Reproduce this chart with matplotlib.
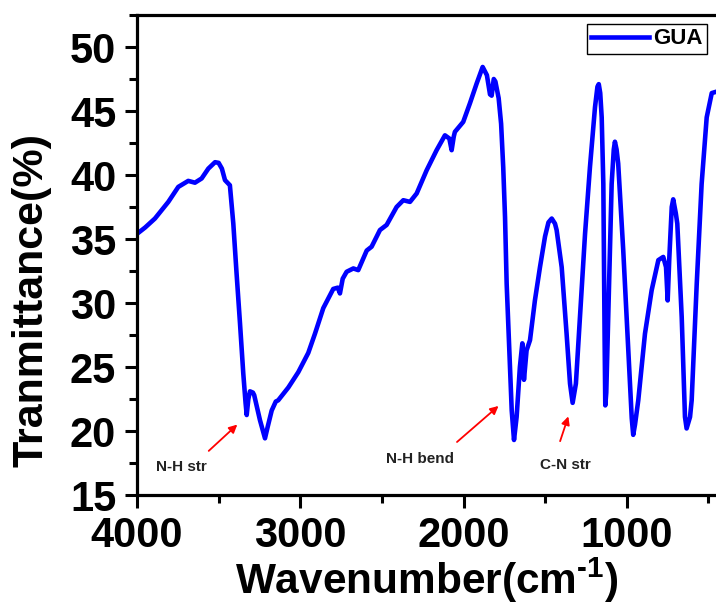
import numpy as np
import matplotlib
matplotlib.use("Agg")
import matplotlib.pyplot as plt
from matplotlib.ticker import MultipleLocator

plt.rcParams['font.family'] = 'Liberation Sans'
plt.rcParams['font.weight'] = 'bold'
plt.rcParams['mathtext.fontset'] = 'custom'
plt.rcParams['mathtext.rm'] = 'Liberation Sans:bold'
plt.rcParams['mathtext.bf'] = 'Liberation Sans:bold'

# FTIR spectrum of GUA
wavenumber = [4000, 3950, 3890, 3808, 3747, 3686, 3645, 3604, 3563, 3522, 3500,
              3480, 3461, 3431, 3410, 3390, 3369, 3349, 3335, 3328, 3318, 3308,
              3290, 3282, 3247, 3216, 3200, 3175, 3150, 3135, 3073, 3012, 2951,
              2910, 2859, 2798, 2770, 2757, 2740, 2716, 2675, 2645, 2593, 2563,
              2512, 2471, 2410, 2369, 2328, 2287, 2226, 2165, 2114, 2087, 2073,
              2060, 2053, 2002, 1961, 1920, 1883, 1857, 1838, 1828, 1815, 1805,
              1785, 1770, 1757, 1746, 1736, 1720, 1705, 1691, 1675, 1655, 1640,
              1630, 1614, 1593, 1563, 1532, 1501, 1480, 1460, 1440, 1430, 1399,
              1369, 1348, 1332, 1312, 1287, 1256, 1226, 1195, 1180, 1172, 1163,
              1154, 1144, 1140, 1136, 1132, 1126, 1114, 1093, 1080, 1073, 1063,
              1053, 1022, 991, 970, 961, 950, 930, 889, 848, 807, 777, 760, 750,
              740, 725, 716, 700, 691, 664, 644, 634, 620, 613, 603, 572, 542,
              511, 480, 454]
transmittance = [35.4, 35.9, 36.6, 37.9, 39.07, 39.54, 39.4, 39.73, 40.5, 41.0,
                 40.95, 40.5, 39.6, 39.2, 36.2, 32.3, 28.4, 24.5, 22.2, 21.25,
                 22.5, 23.1, 23.0, 22.8, 20.86, 19.43, 20.3, 21.6, 22.3, 22.4,
                 23.4, 24.6, 26.1, 27.6, 29.6, 31.1, 31.2, 30.75, 31.9, 32.44,
                 32.7, 32.57, 34.1, 34.4, 35.7, 36.1, 37.5, 38.03, 37.9, 38.56,
                 40.37, 41.94, 43.1, 42.85, 41.94, 43.0, 43.37, 44.15, 45.6,
                 47.14, 48.44, 47.8, 46.3, 46.2, 47.5, 47.3, 46.0, 44.0, 40.6,
                 36.7, 31.5, 26.3, 21.6, 19.3, 21.1, 25.0, 26.85, 24.0, 26.3,
                 27.1, 30.2, 32.8, 35.2, 36.3, 36.6, 36.2, 35.7, 32.8, 27.6,
                 23.7, 22.2, 23.7, 28.9, 35.4, 40.6, 45.3, 46.9, 47.1, 46.4,
                 44.5, 39.3, 33.0, 27.0, 22.0, 23.0, 28.9, 39.3, 42.0, 42.6,
                 42.0, 40.9, 34.1, 26.3, 21.0, 19.7, 20.5, 22.4, 27.6, 31.0,
                 33.35, 33.6, 32.8, 30.2, 33.5, 37.5, 38.1, 37.0, 36.2, 28.9,
                 21.1, 20.2, 20.8, 21.1, 22.4, 31.5, 39.3, 44.5, 46.4, 46.5]

# band assignments: label, text position, arrow tail, arrow head
band_labels = ["N-H str", "N-H bend", "C-N str"]
label_pos = [(3727, 17.2), (2264, 17.8), (1379, 17.35)]
arrow_tail = [(3573, 18.3), (2053, 19.0), (1414, 19.0)]
arrow_head = [(3373, 20.65), (1773, 22.1), (1353, 21.35)]

fig = plt.figure(figsize=(7.16, 6.05), dpi=100)
ax = fig.add_axes([0.1913, 0.1818, 0.8087, 0.7934])

ax.plot(wavenumber, transmittance, color='#0000ff', lw=3.3, label='GUA')

for lab, pos, tail, head in zip(band_labels, label_pos, arrow_tail, arrow_head):
    ax.annotate('', xy=head, xytext=tail,
                arrowprops=dict(arrowstyle='-|>', color='red', lw=1.3,
                                mutation_scale=12))
    ax.text(pos[0], pos[1], lab, ha='center', va='center', fontsize=11,
            fontweight='bold', color='#222222')

ax.set_xlim(4000, 454)
ax.set_ylim(15, 52.5)
ax.xaxis.set_major_locator(MultipleLocator(1000))
ax.xaxis.set_minor_locator(MultipleLocator(500))
ax.yaxis.set_major_locator(MultipleLocator(5))
ax.yaxis.set_minor_locator(MultipleLocator(2.5))

for side in ['left', 'bottom', 'top']:
    ax.spines[side].set_linewidth(2.3)
ax.spines['right'].set_visible(False)
ax.tick_params(which='major', direction='out', length=9, width=2.2,
               labelsize=30, pad=6, top=False, right=False)
ax.tick_params(which='minor', direction='out', length=6, width=2.2,
               top=False, right=False)
for t in ax.get_xticklabels() + ax.get_yticklabels():
    t.set_fontweight('bold')

ax.set_xlabel(r'Wavenumber(cm$^{\text{-}1}$)', fontsize=30.5,
              fontweight='bold', labelpad=0)
ax.set_ylabel('Tranmittance(%)', fontsize=31, fontweight='bold')
ax.yaxis.set_label_coords(-0.148, 0.406)

leg = ax.legend(loc='upper right', fontsize=16, handlelength=2.6,
                borderpad=0.2, handletextpad=0.2, fancybox=False,
                framealpha=1, borderaxespad=0.4)
leg.get_frame().set_edgecolor('black')
leg.get_frame().set_linewidth(1.0)
for t in leg.get_texts():
    t.set_fontweight('bold')

fig.savefig('out.png', dpi=100)
